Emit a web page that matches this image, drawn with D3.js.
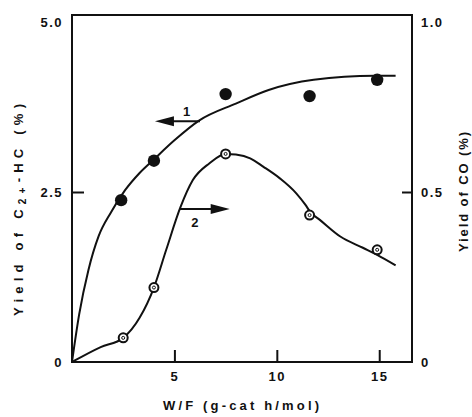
<!DOCTYPE html>
<html>
<head>
<meta charset="utf-8">
<script src="https://cdn.jsdelivr.net/npm/d3@7"></script>
<style>
  body { margin: 0; background: #fff; }
  text { font-family: "Liberation Sans", Arial, sans-serif; fill: #111; }
</style>
</head>
<body>
<div id="area1"></div>
<script>
// data
// series 1 : C2+-HC yield (left axis), filled dots
var hcX = [2.4, 4.0, 7.5, 11.6, 14.9];
var hcY = [2.38, 2.96, 3.94, 3.91, 4.15];
// series 2 : CO yield (right axis), open dots
var coX = [2.5, 4.0, 7.5, 11.6, 14.9];
var coY = [0.071, 0.219, 0.612, 0.432, 0.33];

// hand drawn fitted curves
var curve1X = [0, 0.35, 0.8, 1.3, 1.9, 2.6, 3.3, 4.0, 5.0, 6.2, 8.0, 9.6, 11.8, 14.8, 15.8];
var curve1Y = [0, 0.7, 1.35, 1.85, 2.2, 2.53, 2.78, 2.98, 3.26, 3.55, 3.8, 4.0, 4.15, 4.21, 4.21];
var curve2X = [0, 1.4, 2.5, 3.3, 4.0, 4.6, 5.3, 5.9, 6.7, 7.5, 8.0, 8.7, 9.35, 10.15, 10.95, 11.4, 11.65, 12.1, 13.1, 14.2, 14.9, 15.8];
var curve2Y = [0, 0.044, 0.071, 0.13, 0.219, 0.33, 0.456, 0.535, 0.584, 0.612, 0.61, 0.599, 0.574, 0.54, 0.496, 0.462, 0.44, 0.418, 0.369, 0.336, 0.315, 0.284];

// tick values
var xTicks = [5, 10, 15];
var leftTicks = [0, 2.5, 5];
var rightTicks = [0, 0.5, 1];

//Width and height
var W = 472, H = 417;
var pLeft = 72, pRight = 412, pTop = 15, pBottom = 362;

var svg = d3.select("#area1")
  .append("svg")
  .attr("width", W)
  .attr("height", H);

// scales
var x = d3.scaleLinear().domain([0, 16.6]).range([pLeft, pRight]);
var yL = d3.scaleLinear().domain([0, 5]).range([pBottom, 22]);
var yR = d3.scaleLinear().domain([0, 1]).range([pBottom, 22]);

// frame
svg.append("rect")
  .attr("x", pLeft)
  .attr("y", pTop)
  .attr("width", pRight - pLeft)
  .attr("height", pBottom - pTop)
  .attr("fill", "none")
  .attr("stroke", "#111")
  .attr("stroke-width", 2);

// bottom axis, ticks pointing inward
var gx = svg.append("g")
  .attr("transform", "translate(0," + pBottom + ")")
  .call(d3.axisBottom(x)
    .tickValues(xTicks)
    .tickSize(-12)
    .tickPadding(10)
    .tickFormat(d3.format("d")));

// left axis
var gl = svg.append("g")
  .attr("transform", "translate(" + pLeft + ",0)")
  .call(d3.axisLeft(yL)
    .tickValues(leftTicks)
    .tickSize(-12)
    .tickPadding(9)
    .tickFormat(function(d) { return d == 0 ? "0" : d3.format(".1f")(d); }));
gl.selectAll(".tick line").filter(function(d) { return d != 2.5; }).remove();

// right axis
var gr = svg.append("g")
  .attr("transform", "translate(" + pRight + ",0)")
  .call(d3.axisRight(yR)
    .tickValues(rightTicks)
    .tickSize(-10)
    .tickPadding(9)
    .tickFormat(function(d) { return d == 0 ? "0" : d3.format(".1f")(d); }));
gr.selectAll(".tick line").filter(function(d) { return d != 0.5; }).remove();

[gx, gl, gr].forEach(function(g) {
  g.select(".domain").remove();
  g.selectAll(".tick line").attr("stroke", "#111").attr("stroke-width", 2);
  g.selectAll(".tick text")
    .style("font-size", "13px")
    .style("font-weight", "bold")
    .style("letter-spacing", "1.5px")
    .style("font-family", "'Liberation Sans', Arial, sans-serif")
    .attr("fill", "#111");
});

// axis titles
svg.append("text")
  .attr("x", 241)
  .attr("y", 410)
  .attr("text-anchor", "middle")
  .attr("textLength", 156)
  .attr("lengthAdjust", "spacing")
  .style("font-size", "13px")
  .style("font-weight", "bold")
  .text("W/F (g-cat h/mol)");

var lt = svg.append("text")
  .attr("transform", "translate(23,210) rotate(-90)")
  .attr("text-anchor", "middle")
  .attr("textLength", 212)
  .attr("lengthAdjust", "spacing")
  .style("font-size", "13px")
  .style("font-weight", "bold");
lt.append("tspan").text("Yield of C");
lt.append("tspan").attr("dy", 3).style("font-size", "10px").text("2+");
lt.append("tspan").attr("dy", -3).text("-HC (%)");

svg.append("text")
  .attr("transform", "translate(468,192) rotate(-90)")
  .attr("text-anchor", "middle")
  .attr("textLength", 120)
  .attr("lengthAdjust", "spacing")
  .style("font-size", "13px")
  .style("font-weight", "bold")
  .text("Yield of CO (%)");

// curves
var line1 = d3.line()
  .x(function(d) { return x(d[0]); })
  .y(function(d) { return yL(d[1]); })
  .curve(d3.curveMonotoneX);
var line2 = d3.line()
  .x(function(d) { return x(d[0]); })
  .y(function(d) { return yR(d[1]); })
  .curve(d3.curveMonotoneX);

svg.append("path")
  .datum(d3.zip(curve1X, curve1Y))
  .attr("fill", "none")
  .attr("stroke", "#111")
  .attr("stroke-width", 2)
  .attr("d", line1);

svg.append("path")
  .datum(d3.zip(curve2X, curve2Y))
  .attr("fill", "none")
  .attr("stroke", "#111")
  .attr("stroke-width", 2)
  .attr("d", line2);

// arrows
function arrow(x1, x2, y) {
  var dir = x2 > x1 ? 1 : -1;
  svg.append("line")
    .attr("x1", x1).attr("y1", y)
    .attr("x2", x2 - dir * 14).attr("y2", y)
    .attr("stroke", "#111")
    .attr("stroke-width", 2);
  svg.append("path")
    .attr("d", "M" + x2 + "," + y + "L" + (x2 - dir * 19) + "," + (y - 5) +
      "L" + (x2 - dir * 19) + "," + (y + 5) + "Z")
    .attr("fill", "#111");
}
arrow(x(6.25), x(4.05), yL(3.54));
arrow(x(5.25), x(7.7), yR(0.45));

svg.append("text")
  .attr("x", x(5.6)).attr("y", yL(3.68))
  .attr("text-anchor", "middle").attr("dy", "0.35em")
  .style("font-size", "13px").style("font-weight", "bold")
  .text("1");
svg.append("text")
  .attr("x", x(6.0)).attr("y", yR(0.409))
  .attr("text-anchor", "middle").attr("dy", "0.35em")
  .style("font-size", "13px").style("font-weight", "bold")
  .text("2");

// points, series 1 filled
svg.append("g")
  .selectAll("circle")
  .data(d3.zip(hcX, hcY))
  .enter()
  .append("circle")
    .attr("cx", function(d) { return x(d[0]); })
    .attr("cy", function(d) { return yL(d[1]); })
    .attr("r", 6.2)
    .attr("fill", "#111");

// points, series 2 open with inner dot
var p2 = svg.append("g")
  .selectAll("g")
  .data(d3.zip(coX, coY))
  .enter()
  .append("g")
    .attr("transform", function(d) { return "translate(" + x(d[0]) + "," + yR(d[1]) + ")"; });
p2.append("circle")
  .attr("r", 4.5)
  .attr("fill", "#fff")
  .attr("stroke", "#111")
  .attr("stroke-width", 2);
p2.append("circle")
  .attr("r", 1.5)
  .attr("fill", "none")
  .attr("stroke", "#111")
  .attr("stroke-width", 1);
</script>
</body>
</html>
